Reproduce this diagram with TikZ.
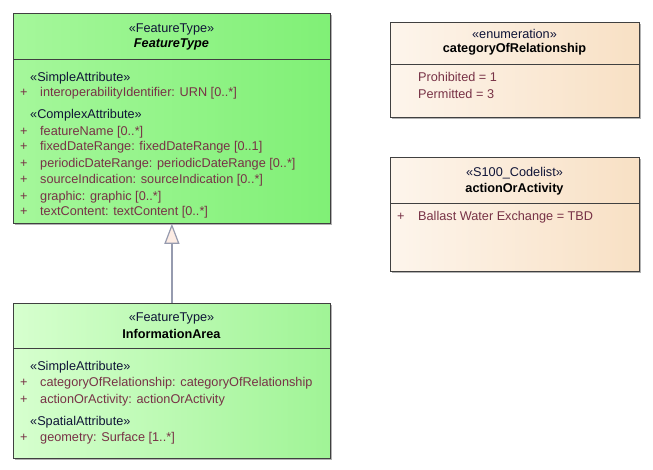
\documentclass[tikz,border=0pt]{standalone}
\usepackage{fontspec}
\setmainfont{Liberation Sans}
\usetikzlibrary{arrows.meta, positioning, shadows}
\definecolor{FeatLeft}{RGB}{165,247,155}
\definecolor{FeatRight}{RGB}{128,240,118}
\definecolor{InfoLeft}{RGB}{214,255,206}
\definecolor{InfoRight}{RGB}{160,244,150}
\definecolor{EnumLeft}{RGB}{253,245,236}
\definecolor{EnumRight}{RGB}{248,224,196}
\definecolor{AttrText}{RGB}{120,50,70}
\definecolor{StereoText}{RGB}{15,20,55}
\definecolor{LinkGray}{RGB}{150,155,175}
\definecolor{HeadFill}{RGB}{252,236,228}

\begin{document}
\begin{tikzpicture}[x=1pt, y=-1pt,
            umlbox/.style={draw=black!75, line width=0.8pt, anchor=north west, inner sep=0pt, drop shadow={shadow xshift=1.5pt, shadow yshift=-1.5pt, fill=black!30, opacity=1}},
            feature/.style={umlbox, left color=FeatLeft, right color=FeatRight},
            info/.style={umlbox, left color=InfoLeft, right color=InfoRight},
            enum/.style={umlbox, left color=EnumLeft, right color=EnumRight},
            txt/.style={inner sep=0pt, font=\fontsize{12.7}{14}\selectfont},
            stereo/.style={txt, StereoText},
            cname/.style={txt, font=\fontsize{12.7}{14}\selectfont\bfseries},
            attr/.style={txt, anchor=west, AttrText},
            divider/.style={black!75, line width=0.8pt},
            generalize/.style={-{Triangle[open, width=15pt, length=20pt, fill=HeadFill]}, LinkGray, line width=1.2pt}
        ]
        \useasboundingbox (0,0) rectangle (653,470);

        % Abstract feature type
        \node[feature, minimum width=317pt, minimum height=210pt] (feat) at (13,13) {};
        \draw[divider] (13,59) -- (330,59);
        \node[stereo] (featst) at (171.5,29) {«FeatureType»};
        \node[cname, font=\fontsize{12.7}{14}\selectfont\bfseries\itshape] (featnm) at (171.5,44) {FeatureType};
        \node[stereo, anchor=west] (fsimple) at (30,78) {«SimpleAttribute»};
        \node[attr] (fp1) at (20,93) {+};
        \node[attr] (fa1) at (40,93) {interoperabilityIdentifier: URN [0..*]};
        \node[stereo, anchor=west] (fcomplex) at (30,115) {«ComplexAttribute»};
        \node[attr] (fp2) at (20,132) {+};
        \node[attr] (fa2) at (40,132) {featureName [0..*]};
        \node[attr] (fp3) at (20,147) {+};
        \node[attr] (fa3) at (40,147) {fixedDateRange: fixedDateRange [0..1]};
        \node[attr] (fp4) at (20,164) {+};
        \node[attr] (fa4) at (40,164) {periodicDateRange: periodicDateRange [0..*]};
        \node[attr] (fp5) at (20,180) {+};
        \node[attr] (fa5) at (40,180) {sourceIndication: sourceIndication [0..*]};
        \node[attr] (fp6) at (20,197) {+};
        \node[attr] (fa6) at (40,197) {graphic: graphic [0..*]};
        \node[attr] (fp7) at (20,212) {+};
        \node[attr] (fa7) at (40,212) {textContent: textContent [0..*]};

        % Information area
        \node[info, minimum width=317pt, minimum height=155pt] (area) at (13,303) {};
        \draw[divider] (13,348) -- (330,348);
        \node[stereo] (areast) at (171.5,318) {«FeatureType»};
        \node[cname] (areanm) at (171.5,334) {InformationArea};
        \node[stereo, anchor=west] (asimple) at (30,367) {«SimpleAttribute»};
        \node[attr] (ap1) at (20,383) {+};
        \node[attr] (aa1) at (40,383) {categoryOfRelationship: categoryOfRelationship};
        \node[attr] (ap2) at (20,400) {+};
        \node[attr] (aa2) at (40,400) {actionOrActivity: actionOrActivity};
        \node[stereo, anchor=west] (aspatial) at (30,422) {«SpatialAttribute»};
        \node[attr] (ap3) at (20,438) {+};
        \node[attr] (aa3) at (40,438) {geometry: Surface [1..*]};

        % Enumeration
        \node[enum, minimum width=249pt, minimum height=95pt] (rel) at (390,22) {};
        \draw[divider] (390,64) -- (639,64);
        \node[stereo] (relst) at (514.5,34) {«enumeration»};
        \node[cname] (relnm) at (514.5,49) {categoryOfRelationship};
        \node[attr] (rv1) at (418,77) {Prohibited = 1};
        \node[attr] (rv2) at (418,94) {Permitted = 3};

        % Codelist
        \node[enum, minimum width=249pt, minimum height=114pt] (act) at (390,157) {};
        \draw[divider] (390,203) -- (639,203);
        \node[stereo] (actst) at (514.5,173) {«S100\_Codelist»};
        \node[cname] (actnm) at (514.5,189) {actionOrActivity};
        \node[attr] (cp1) at (397,217) {+};
        \node[attr] (cv1) at (418,217) {Ballast Water Exchange = TBD};

        % Generalization
        \draw[generalize] (area.north) -- (feat.south);

        \end{tikzpicture}
\end{document}
